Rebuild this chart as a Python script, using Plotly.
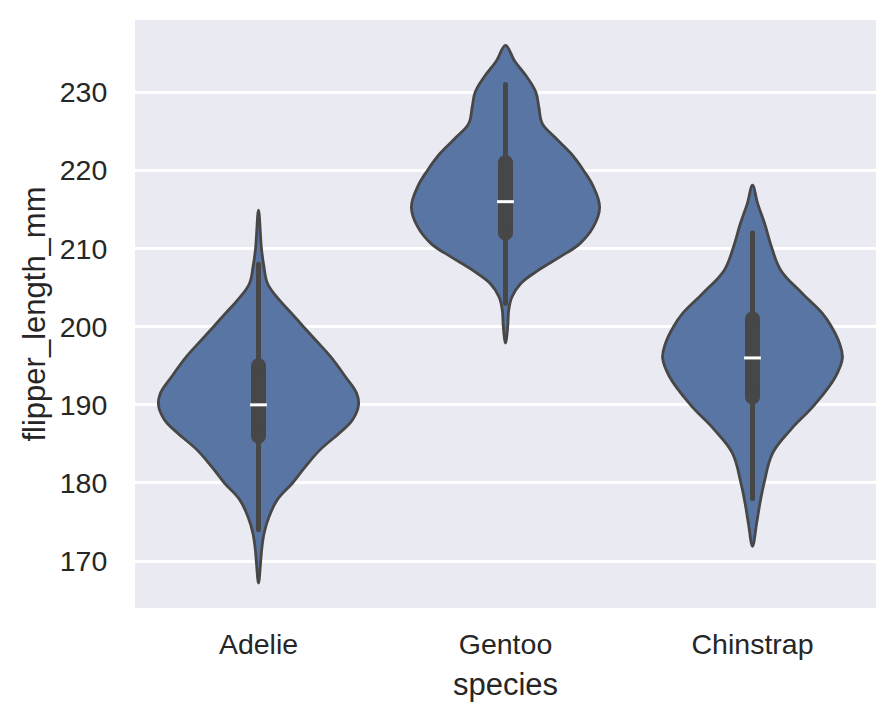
import plotly.graph_objects as go

# ---- data ----
species = ["Adelie", "Gentoo", "Chinstrap"]

# violin outline: flipper length values and half-width (in category units)
adelie_y = [214.9, 210, 207.7, 205.5, 203.4, 201.7, 200, 198.3, 196.2, 193.6, 191.5, 190,
            188.1, 186.4, 184.3, 182.1, 180, 177.9, 175.7, 173.6, 171.5, 170, 167.2]
adelie_w = [0, .012, .022, .037, .085, .134, .182, .231, .291, .352, .397, .405,
            .381, .328, .251, .190, .138, .077, .043, .023, .013, .009, 0]

gentoo_y = [236.0, 234.0, 231.9, 230.0, 228.1, 226.0, 224.3, 222.1, 220.0, 217.9, 215.3,
            212.8, 210.6, 208.9, 207.2, 205.5, 203.8, 202.1, 200.0, 197.9]
gentoo_w = [0, .037, .088, .123, .135, .149, .198, .267, .316, .356, .381,
            .356, .300, .219, .132, .061, .026, .013, .009, 0]

chin_y = [218.1, 215.75, 213.2, 210.0, 207.2, 204.25, 201.7, 200.0, 197.9, 196.0, 193.6,
          190.0, 186.8, 183.8, 180.0, 177.4, 174.9, 171.9]
chin_w = [0, .021, .049, .079, .115, .202, .283, .320, .352, .364, .336,
          .251, .154, .081, .047, .030, .017, 0]

# box statistics: whisker low, q1, median, q3, whisker high
whisker_lo = [174, 203, 178]
q1 = [186, 212, 191]
median = [190, 216, 196]
q3 = [195, 221, 201]
whisker_hi = [208, 231, 212]

y_ticks = [170, 180, 190, 200, 210, 220, 230]

# ---- style ----
FILL = "#5975a4"
LINE = "#474747"
TEXT = "#262626"
FONT = "Liberation Sans, Arial, sans-serif"

fig = go.Figure()

outlines = [(adelie_y, adelie_w), (gentoo_y, gentoo_w), (chin_y, chin_w)]
for i, (ys, ws) in enumerate(outlines):
    xs = [i + w for w in ws] + [i - w for w in reversed(ws)][1:]
    yy = list(ys) + list(reversed(ys))[1:]
    fig.add_trace(go.Scatter(
        x=xs, y=yy, mode="lines", fill="toself", fillcolor=FILL,
        line=dict(color=LINE, width=2.8, shape="spline", smoothing=1.1),
        hoverinfo="skip", showlegend=False))

for i in range(len(species)):
    # whisker
    fig.add_trace(go.Scatter(
        x=[i, i], y=[whisker_lo[i], whisker_hi[i]], mode="lines+markers",
        line=dict(color=LINE, width=5),
        marker=dict(color=LINE, size=5, line=dict(width=0)),
        hoverinfo="skip", showlegend=False))
    # box
    fig.add_trace(go.Scatter(
        x=[i, i], y=[q1[i], q3[i]], mode="lines+markers",
        line=dict(color=LINE, width=15),
        marker=dict(color=LINE, size=15, line=dict(width=0)),
        hoverinfo="skip", showlegend=False))
    # median
    fig.add_trace(go.Scatter(
        x=[i], y=[median[i]], mode="markers",
        marker=dict(symbol="line-ew", size=12, line=dict(color="white", width=3)),
        hoverinfo="skip", showlegend=False))

fig.update_layout(
    width=896, height=722,
    margin=dict(l=127, r=28, t=12, b=122, autoexpand=False),
    paper_bgcolor="white", plot_bgcolor="#eaeaf2",
    font=dict(family=FONT, color=TEXT, size=28.5),
    showlegend=False,
)
fig.update_xaxes(
    range=[-0.5, 2.5], tickvals=list(range(len(species))), ticktext=species,
    showgrid=False, zeroline=False, showline=False, automargin=False,
    ticks="outside", ticklen=11, tickcolor="rgba(0,0,0,0)",
    tickfont=dict(size=28.5, color=TEXT, family=FONT),
    title=dict(text="species", font=dict(size=31, color=TEXT, family=FONT), standoff=14),
)
fig.update_yaxes(
    range=[164.0, 239.25], tickvals=y_ticks,
    showgrid=True, gridcolor="white", gridwidth=2.7,
    zeroline=False, showline=False, automargin=False,
    ticks="outside", ticklen=21, tickcolor="rgba(0,0,0,0)",
    tickfont=dict(size=28.5, color=TEXT, family=FONT),
    title=dict(text="flipper_length_mm", font=dict(size=31, color=TEXT, family=FONT), standoff=4),
)

fig.write_html("out.html")
